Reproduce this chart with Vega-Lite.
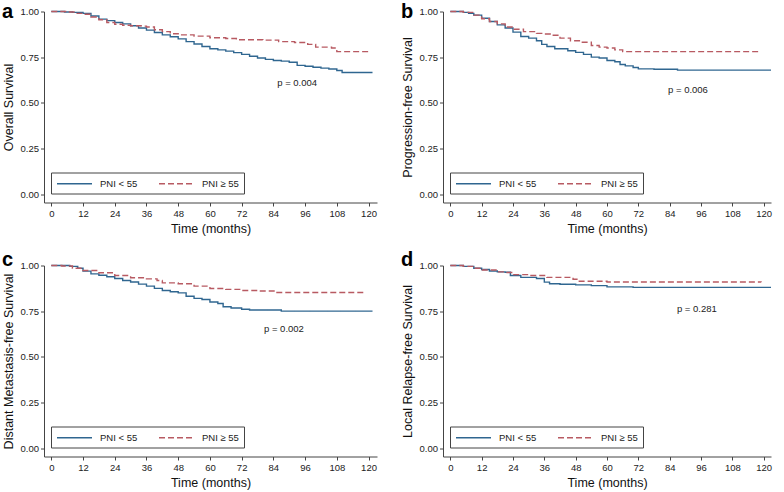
{
  "$schema": "https://vega.github.io/schema/vega-lite/v6.json",
  "padding": {"left": 2, "top": 1.5, "right": 0, "bottom": 0},
  "background": "white",
  "config": {
    "font": "Liberation Sans",
    "view": {"stroke": null},
    "axis": {"labelFont": "Liberation Sans", "titleFont": "Liberation Sans", "labelFontSize": 9.5, "titleFontSize": 12.5, "titleFontWeight": "normal", "labelColor": "#222", "titleColor": "#111", "domainColor": "#444", "tickColor": "#444", "tickSize": 3.5, "grid": false, "labelPadding": 2},
    "axisY": {"titlePadding": 5},
    "axisX": {"titlePadding": 5, "labelFlush": false},
    "legend": {"orient": "none", "legendX": 7, "legendY": 161, "direction": "horizontal", "strokeColor": "#444", "padding": 5, "symbolType": "M-1,0H6", "symbolSize": 100, "symbolStrokeWidth": 1.3, "labelFont": "Liberation Sans", "labelFontSize": 9.5, "labelColor": "#222", "columnPadding": 18, "labelOffset": 32, "fillColor": "white"},
    "title": {"anchor": "start", "frame": "bounds", "font": "Liberation Sans", "fontSize": 20, "fontWeight": "bold", "color": "#000", "offset": 0, "dy": 19.5},
    "text": {"font": "Liberation Sans", "fontSize": 9.5, "color": "#222"}
  },
  "datasets": {
    "a": [
      {"g":"PNI < 55","t":0,"s":1},{"g":"PNI < 55","t":5,"s":0.997},{"g":"PNI < 55","t":8,"s":0.995},{"g":"PNI < 55","t":12,"s":0.99},{"g":"PNI < 55","t":15,"s":0.975},{"g":"PNI < 55","t":18,"s":0.958},{"g":"PNI < 55","t":21,"s":0.95},{"g":"PNI < 55","t":24,"s":0.94},{"g":"PNI < 55","t":27,"s":0.932},{"g":"PNI < 55","t":30,"s":0.922},{"g":"PNI < 55","t":33,"s":0.91},{"g":"PNI < 55","t":36,"s":0.898},{"g":"PNI < 55","t":39,"s":0.885},{"g":"PNI < 55","t":42,"s":0.872},{"g":"PNI < 55","t":45,"s":0.862},{"g":"PNI < 55","t":48,"s":0.85},{"g":"PNI < 55","t":51,"s":0.835},{"g":"PNI < 55","t":54,"s":0.822},{"g":"PNI < 55","t":57,"s":0.808},{"g":"PNI < 55","t":60,"s":0.796},{"g":"PNI < 55","t":63,"s":0.79},{"g":"PNI < 55","t":66,"s":0.783},{"g":"PNI < 55","t":69,"s":0.775},{"g":"PNI < 55","t":72,"s":0.765},{"g":"PNI < 55","t":75,"s":0.755},{"g":"PNI < 55","t":78,"s":0.745},{"g":"PNI < 55","t":81,"s":0.738},{"g":"PNI < 55","t":84,"s":0.732},{"g":"PNI < 55","t":87,"s":0.728},{"g":"PNI < 55","t":90,"s":0.722},{"g":"PNI < 55","t":93,"s":0.705},{"g":"PNI < 55","t":96,"s":0.7},{"g":"PNI < 55","t":99,"s":0.695},{"g":"PNI < 55","t":102,"s":0.69},{"g":"PNI < 55","t":105,"s":0.685},{"g":"PNI < 55","t":108,"s":0.677},{"g":"PNI < 55","t":110,"s":0.666},{"g":"PNI < 55","t":121.5,"s":0.666},
      {"g":"PNI ≥ 55","t":0,"s":1},{"g":"PNI ≥ 55","t":6,"s":0.997},{"g":"PNI ≥ 55","t":9,"s":0.99},{"g":"PNI ≥ 55","t":12,"s":0.985},{"g":"PNI ≥ 55","t":15,"s":0.97},{"g":"PNI ≥ 55","t":18,"s":0.955},{"g":"PNI ≥ 55","t":21,"s":0.94},{"g":"PNI ≥ 55","t":24,"s":0.93},{"g":"PNI ≥ 55","t":27,"s":0.925},{"g":"PNI ≥ 55","t":30,"s":0.922},{"g":"PNI ≥ 55","t":34,"s":0.92},{"g":"PNI ≥ 55","t":36,"s":0.915},{"g":"PNI ≥ 55","t":39,"s":0.9},{"g":"PNI ≥ 55","t":42,"s":0.89},{"g":"PNI ≥ 55","t":45,"s":0.878},{"g":"PNI ≥ 55","t":48,"s":0.872},{"g":"PNI ≥ 55","t":54,"s":0.865},{"g":"PNI ≥ 55","t":60,"s":0.856},{"g":"PNI ≥ 55","t":66,"s":0.852},{"g":"PNI ≥ 55","t":70,"s":0.845},{"g":"PNI ≥ 55","t":80,"s":0.843},{"g":"PNI ≥ 55","t":86,"s":0.835},{"g":"PNI ≥ 55","t":92,"s":0.83},{"g":"PNI ≥ 55","t":97,"s":0.82},{"g":"PNI ≥ 55","t":100,"s":0.805},{"g":"PNI ≥ 55","t":106,"s":0.8},{"g":"PNI ≥ 55","t":108,"s":0.78},{"g":"PNI ≥ 55","t":120.8,"s":0.78}
    ],
    "b": [
      {"g":"PNI < 55","t":0,"s":1},{"g":"PNI < 55","t":5,"s":0.995},{"g":"PNI < 55","t":7,"s":0.99},{"g":"PNI < 55","t":9,"s":0.98},{"g":"PNI < 55","t":12,"s":0.963},{"g":"PNI < 55","t":15,"s":0.945},{"g":"PNI < 55","t":18,"s":0.927},{"g":"PNI < 55","t":21,"s":0.91},{"g":"PNI < 55","t":24,"s":0.887},{"g":"PNI < 55","t":27,"s":0.863},{"g":"PNI < 55","t":30,"s":0.854},{"g":"PNI < 55","t":33,"s":0.84},{"g":"PNI < 55","t":35,"s":0.82},{"g":"PNI < 55","t":37,"s":0.808},{"g":"PNI < 55","t":40,"s":0.796},{"g":"PNI < 55","t":45,"s":0.785},{"g":"PNI < 55","t":48,"s":0.776},{"g":"PNI < 55","t":51,"s":0.765},{"g":"PNI < 55","t":54,"s":0.75},{"g":"PNI < 55","t":57,"s":0.745},{"g":"PNI < 55","t":60,"s":0.732},{"g":"PNI < 55","t":63,"s":0.725},{"g":"PNI < 55","t":65,"s":0.71},{"g":"PNI < 55","t":67,"s":0.702},{"g":"PNI < 55","t":70,"s":0.693},{"g":"PNI < 55","t":72,"s":0.686},{"g":"PNI < 55","t":78,"s":0.684},{"g":"PNI < 55","t":87,"s":0.679},{"g":"PNI < 55","t":122.8,"s":0.679},
      {"g":"PNI ≥ 55","t":0,"s":1},{"g":"PNI ≥ 55","t":5,"s":0.995},{"g":"PNI ≥ 55","t":9,"s":0.98},{"g":"PNI ≥ 55","t":12,"s":0.96},{"g":"PNI ≥ 55","t":15,"s":0.945},{"g":"PNI ≥ 55","t":18,"s":0.932},{"g":"PNI ≥ 55","t":21,"s":0.915},{"g":"PNI ≥ 55","t":24,"s":0.903},{"g":"PNI ≥ 55","t":28,"s":0.89},{"g":"PNI ≥ 55","t":33,"s":0.88},{"g":"PNI ≥ 55","t":36,"s":0.877},{"g":"PNI ≥ 55","t":39,"s":0.87},{"g":"PNI ≥ 55","t":42,"s":0.854},{"g":"PNI ≥ 55","t":46,"s":0.84},{"g":"PNI ≥ 55","t":50,"s":0.832},{"g":"PNI ≥ 55","t":54,"s":0.814},{"g":"PNI ≥ 55","t":57,"s":0.805},{"g":"PNI ≥ 55","t":60,"s":0.8},{"g":"PNI ≥ 55","t":63,"s":0.79},{"g":"PNI ≥ 55","t":66,"s":0.78},{"g":"PNI ≥ 55","t":119,"s":0.78}
    ],
    "c": [
      {"g":"PNI < 55","t":0,"s":1},{"g":"PNI < 55","t":7,"s":0.995},{"g":"PNI < 55","t":10,"s":0.985},{"g":"PNI < 55","t":12,"s":0.969},{"g":"PNI < 55","t":15,"s":0.954},{"g":"PNI < 55","t":18,"s":0.947},{"g":"PNI < 55","t":21,"s":0.938},{"g":"PNI < 55","t":24,"s":0.929},{"g":"PNI < 55","t":27,"s":0.918},{"g":"PNI < 55","t":30,"s":0.91},{"g":"PNI < 55","t":33,"s":0.898},{"g":"PNI < 55","t":36,"s":0.887},{"g":"PNI < 55","t":39,"s":0.875},{"g":"PNI < 55","t":42,"s":0.863},{"g":"PNI < 55","t":45,"s":0.856},{"g":"PNI < 55","t":48,"s":0.85},{"g":"PNI < 55","t":51,"s":0.832},{"g":"PNI < 55","t":54,"s":0.82},{"g":"PNI < 55","t":57,"s":0.814},{"g":"PNI < 55","t":60,"s":0.8},{"g":"PNI < 55","t":63,"s":0.792},{"g":"PNI < 55","t":65,"s":0.774},{"g":"PNI < 55","t":68,"s":0.767},{"g":"PNI < 55","t":72,"s":0.76},{"g":"PNI < 55","t":75,"s":0.756},{"g":"PNI < 55","t":87,"s":0.75},{"g":"PNI < 55","t":121.5,"s":0.75},
      {"g":"PNI ≥ 55","t":0,"s":1},{"g":"PNI ≥ 55","t":4,"s":0.997},{"g":"PNI ≥ 55","t":8,"s":0.985},{"g":"PNI ≥ 55","t":12,"s":0.973},{"g":"PNI ≥ 55","t":18,"s":0.96},{"g":"PNI ≥ 55","t":24,"s":0.945},{"g":"PNI ≥ 55","t":30,"s":0.933},{"g":"PNI ≥ 55","t":36,"s":0.927},{"g":"PNI ≥ 55","t":40,"s":0.918},{"g":"PNI ≥ 55","t":42,"s":0.905},{"g":"PNI ≥ 55","t":48,"s":0.9},{"g":"PNI ≥ 55","t":54,"s":0.887},{"g":"PNI ≥ 55","t":60,"s":0.874},{"g":"PNI ≥ 55","t":66,"s":0.869},{"g":"PNI ≥ 55","t":72,"s":0.863},{"g":"PNI ≥ 55","t":78,"s":0.86},{"g":"PNI ≥ 55","t":85,"s":0.852},{"g":"PNI ≥ 55","t":119,"s":0.852}
    ],
    "d": [
      {"g":"PNI < 55","t":0,"s":1},{"g":"PNI < 55","t":5,"s":0.995},{"g":"PNI < 55","t":9,"s":0.985},{"g":"PNI < 55","t":12,"s":0.978},{"g":"PNI < 55","t":15,"s":0.97},{"g":"PNI < 55","t":18,"s":0.965},{"g":"PNI < 55","t":21,"s":0.963},{"g":"PNI < 55","t":23,"s":0.945},{"g":"PNI < 55","t":27,"s":0.935},{"g":"PNI < 55","t":33,"s":0.929},{"g":"PNI < 55","t":36,"s":0.909},{"g":"PNI < 55","t":38,"s":0.9},{"g":"PNI < 55","t":42,"s":0.897},{"g":"PNI < 55","t":48,"s":0.894},{"g":"PNI < 55","t":54,"s":0.89},{"g":"PNI < 55","t":60,"s":0.883},{"g":"PNI < 55","t":70,"s":0.88},{"g":"PNI < 55","t":122.8,"s":0.88},
      {"g":"PNI ≥ 55","t":0,"s":1},{"g":"PNI ≥ 55","t":5,"s":0.995},{"g":"PNI ≥ 55","t":9,"s":0.985},{"g":"PNI ≥ 55","t":12,"s":0.975},{"g":"PNI ≥ 55","t":18,"s":0.965},{"g":"PNI ≥ 55","t":21,"s":0.962},{"g":"PNI ≥ 55","t":24,"s":0.95},{"g":"PNI ≥ 55","t":30,"s":0.945},{"g":"PNI ≥ 55","t":37,"s":0.935},{"g":"PNI ≥ 55","t":47,"s":0.925},{"g":"PNI ≥ 55","t":49,"s":0.914},{"g":"PNI ≥ 55","t":60,"s":0.91},{"g":"PNI ≥ 55","t":119,"s":0.908}
    ],
    "pa": [{"t":93,"s":0.608,"label":"p = 0.004"}],
    "pb": [{"t":91,"s":0.571,"label":"p = 0.006"}],
    "pc": [{"t":88,"s":0.654,"label":"p = 0.002"}],
    "pd": [{"t":94.4,"s":0.763,"label":"p = 0.281"}]
  },
  "spacing": 14,
  "resolve": {"scale": {"color": "independent", "strokeDash": "independent"}, "legend": {"color": "independent", "strokeDash": "independent"}},
  "vconcat": [
    {
      "spacing": 24,
      "resolve": {"scale": {"color": "independent", "strokeDash": "independent"}, "legend": {"color": "independent", "strokeDash": "independent"}},
      "hconcat": [
        {
          "width": 333, "height": 191,
          "title": "a",
          "encoding": {
            "x": {"field": "t", "type": "quantitative", "scale": {"domain": [-2.76, 123.2], "nice": false, "zero": false}, "axis": {"title": "Time (months)", "values": [0,12,24,36,48,60,72,84,96,108,120]}},
            "y": {"field": "s", "type": "quantitative", "scale": {"domain": [-0.046, 1], "nice": false, "zero": false}, "axis": {"title": "Overall Survival", "values": [0,0.25,0.5,0.75,1], "format": ".2f"}}
          },
          "layer": [
            {"data": {"name": "a"}, "mark": {"type": "line", "interpolate": "step-after", "strokeWidth": 1.4},
             "encoding": {
               "color": {"field": "g", "type": "nominal", "scale": {"domain": ["PNI < 55", "PNI ≥ 55"], "range": ["#2f6690", "#b85a62"]}, "legend": {"title": null}},
               "strokeDash": {"field": "g", "type": "nominal", "scale": {"domain": ["PNI < 55", "PNI ≥ 55"], "range": [[1, 0], [6, 3]]}, "legend": {"title": null}}
             }},
            {"data": {"name": "pa"}, "mark": {"type": "text"}, "encoding": {"text": {"field": "label"}}}
          ]
        },
        {
          "width": 328, "height": 191,
          "title": "b",
          "encoding": {
            "x": {"field": "t", "type": "quantitative", "scale": {"domain": [-2.8, 122.8], "nice": false, "zero": false}, "axis": {"title": "Time (months)", "values": [0,12,24,36,48,60,72,84,96,108,120]}},
            "y": {"field": "s", "type": "quantitative", "scale": {"domain": [-0.046, 1], "nice": false, "zero": false}, "axis": {"title": "Progression-free Survival", "values": [0,0.25,0.5,0.75,1], "format": ".2f"}}
          },
          "layer": [
            {"data": {"name": "b"}, "mark": {"type": "line", "interpolate": "step-after", "strokeWidth": 1.4},
             "encoding": {
               "color": {"field": "g", "type": "nominal", "scale": {"domain": ["PNI < 55", "PNI ≥ 55"], "range": ["#2f6690", "#b85a62"]}, "legend": {"title": null}},
               "strokeDash": {"field": "g", "type": "nominal", "scale": {"domain": ["PNI < 55", "PNI ≥ 55"], "range": [[1, 0], [6, 3]]}, "legend": {"title": null}}
             }},
            {"data": {"name": "pb"}, "mark": {"type": "text"}, "encoding": {"text": {"field": "label"}}}
          ]
        }
      ]
    },
    {
      "spacing": 24,
      "resolve": {"scale": {"color": "independent", "strokeDash": "independent"}, "legend": {"color": "independent", "strokeDash": "independent"}},
      "hconcat": [
        {
          "width": 333, "height": 191,
          "title": {"text": "c", "dy": 13.5},
          "encoding": {
            "x": {"field": "t", "type": "quantitative", "scale": {"domain": [-2.76, 123.2], "nice": false, "zero": false}, "axis": {"title": "Time (months)", "values": [0,12,24,36,48,60,72,84,96,108,120]}},
            "y": {"field": "s", "type": "quantitative", "scale": {"domain": [-0.046, 1], "nice": false, "zero": false}, "axis": {"title": "Distant Metastasis-free Survival", "values": [0,0.25,0.5,0.75,1], "format": ".2f"}}
          },
          "layer": [
            {"data": {"name": "c"}, "mark": {"type": "line", "interpolate": "step-after", "strokeWidth": 1.4},
             "encoding": {
               "color": {"field": "g", "type": "nominal", "scale": {"domain": ["PNI < 55", "PNI ≥ 55"], "range": ["#2f6690", "#b85a62"]}, "legend": {"title": null}},
               "strokeDash": {"field": "g", "type": "nominal", "scale": {"domain": ["PNI < 55", "PNI ≥ 55"], "range": [[1, 0], [6, 3]]}, "legend": {"title": null}}
             }},
            {"data": {"name": "pc"}, "mark": {"type": "text"}, "encoding": {"text": {"field": "label"}}}
          ]
        },
        {
          "width": 328, "height": 191,
          "title": {"text": "d", "dy": 13.5},
          "encoding": {
            "x": {"field": "t", "type": "quantitative", "scale": {"domain": [-2.8, 122.8], "nice": false, "zero": false}, "axis": {"title": "Time (months)", "values": [0,12,24,36,48,60,72,84,96,108,120]}},
            "y": {"field": "s", "type": "quantitative", "scale": {"domain": [-0.046, 1], "nice": false, "zero": false}, "axis": {"title": "Local Relapse-free Survival", "values": [0,0.25,0.5,0.75,1], "format": ".2f"}}
          },
          "layer": [
            {"data": {"name": "d"}, "mark": {"type": "line", "interpolate": "step-after", "strokeWidth": 1.4},
             "encoding": {
               "color": {"field": "g", "type": "nominal", "scale": {"domain": ["PNI < 55", "PNI ≥ 55"], "range": ["#2f6690", "#b85a62"]}, "legend": {"title": null}},
               "strokeDash": {"field": "g", "type": "nominal", "scale": {"domain": ["PNI < 55", "PNI ≥ 55"], "range": [[1, 0], [6, 3]]}, "legend": {"title": null}}
             }},
            {"data": {"name": "pd"}, "mark": {"type": "text"}, "encoding": {"text": {"field": "label"}}}
          ]
        }
      ]
    }
  ]
}
